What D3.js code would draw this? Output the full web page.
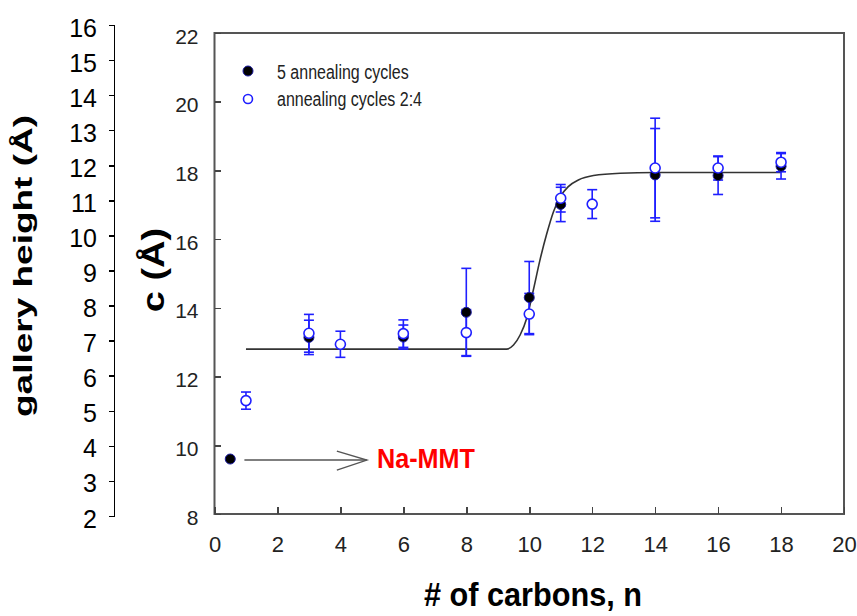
<!DOCTYPE html>
<html lang="en">
<head>
<meta charset="utf-8">
<title>c vs number of carbons</title>
<style>
body{
  margin: 0;
  background: #fff;
}
svg text{
  font-family: "Liberation Sans", Arial, sans-serif;
}
.axis path, .axis line{
  fill: none;
  shape-rendering: crispEdges;
}
</style>
</head>
<body>
<div id="chart"></div>
<script src="https://d3js.org/d3.v7.min.js"></script>
<script>

// values
const nFilled = [0.5, 3, 6, 8, 10, 11, 14, 16, 18];
const cFilled = [9.6, 13.14, 13.15, 13.87, 14.3, 17.01, 17.87, 17.85, 18.12];
const errFilled = [0, 0.5, 0.35, 1.28, 1.05, 0.5, 1.35, 0.55, 0.37];

const nOpen = [1, 3, 4, 6, 8, 10, 11, 12, 14, 16, 18];
const cOpen = [11.3, 13.26, 12.94, 13.25, 13.28, 13.82, 17.19, 17.02, 18.07, 18.07, 18.24];
const errOpen = [0.25, 0.55, 0.38, 0.4, 0.67, 0.6, 0.4, 0.42, 1.45, 0.35, 0.28];

// fitted curve, points
const fitN = [1, 6.5, 9.28, 9.5, 9.71, 9.92, 10.13, 10.34, 10.56, 10.77, 10.98, 11.24, 11.56, 12.04, 12.89, 14, 18];
const fitC = [12.8, 12.8, 12.8, 12.92, 13.21, 13.7, 14.52, 15.39, 16.17, 16.8, 17.23, 17.53, 17.72, 17.85, 17.92, 17.94, 17.94];

const xTicks = [0, 2, 4, 6, 8, 10, 12, 14, 16, 18, 20];
const cTicks = [8, 10, 12, 14, 16, 18, 20, 22];
const galleryTicks = [2, 3, 4, 5, 6, 7, 8, 9, 10, 11, 12, 13, 14, 15, 16];

const seriesNames = ["5 annealing cycles", "annealing cycles 2:4"];
const arrowFrom = [0.95, 9.57];
const arrowTo = [4.84, 9.57];
const noteText = "Na-MMT";

const width = 857;
const height = 616;

const svg = d3.select('#chart')
  .append('svg')
  .attr('width', width)
  .attr('height', height);

const xS = d3.scaleLinear().domain([0, 20]).range([214.5, 844]);
const yS = d3.scaleLinear().domain([8, 22]).range([514, 33]);
const gS = d3.scaleLinear().domain([2, 16]).range([516, 25]);

// stretched text helper (the original titles are condensed)
function label(x, y, txt, size, weight, sx, rot, colour, anchor) {
  return svg.append('text')
    .attr('transform', 'translate(' + x + ',' + y + ') scale(' + sx + ',1)' + (rot ? ' rotate(' + rot + ')' : ''))
    .attr('text-anchor', anchor || 'middle')
    .style('font-size', size + 'px')
    .style('font-weight', weight)
    .style('fill', colour || '#000')
    .text(txt);
}

// plot box
svg.append('rect')
  .attr('x', xS(0))
  .attr('y', yS(22))
  .attr('width', xS(20) - xS(0))
  .attr('height', yS(8) - yS(22))
  .style('fill', 'none')
  .style('stroke', '#555')
  .style('stroke-width', 2);

// x ticks
const xAxis = svg.append('g')
  .attr('class', 'axis')
  .attr('transform', 'translate(0,' + yS(8) + ')')
  .call(d3.axisBottom(xS).tickValues(xTicks).tickSizeInner(-7).tickSizeOuter(0).tickPadding(22));
xAxis.select('.domain').remove();
xAxis.selectAll('line').style('stroke', '#444').style('stroke-width', 1.5);
xAxis.selectAll('text').style('font-size', '22px').style('fill', '#222');

// c ticks
const cAxis = svg.append('g')
  .attr('class', 'axis')
  .attr('transform', 'translate(' + xS(0) + ',0)')
  .call(d3.axisLeft(yS).tickValues(cTicks).tickSizeInner(-6).tickSizeOuter(0).tickPadding(16));
cAxis.select('.domain').remove();
cAxis.selectAll('line').style('stroke', '#444').style('stroke-width', 1.5);
cAxis.selectAll('text').attr('dy', '0.48em').style('font-size', '21px').style('fill', '#222');

// gallery height axis
const gAxis = svg.append('g')
  .attr('class', 'axis')
  .attr('transform', 'translate(114,0)')
  .call(d3.axisLeft(gS).tickValues(galleryTicks).tickSizeInner(5).tickSizeOuter(5).tickPadding(12));
gAxis.select('.domain').style('stroke', '#000').style('stroke-width', 1.5);
gAxis.selectAll('line').style('stroke', '#000').style('stroke-width', 1.5);
gAxis.selectAll('text').attr('dy', '0.44em').style('font-size', '25px').style('fill', '#000');

// titles
label(32, 266, "gallery height (Å)", 37, 'bold', 0.68, -90);
label(164, 270, "c (Å)", 38, 'bold', 0.82, -90);
label(533, 606, "# of carbons, n", 33, 'bold', 0.93, 0);

// fitted curve
const fit = fitN.map((n, i) => [n, fitC[i]]);
svg.append('path')
  .datum(fit)
  .attr('d', d3.line().x(d => xS(d[0])).y(d => yS(d[1])).curve(d3.curveMonotoneX))
  .style('fill', 'none')
  .style('stroke', '#333')
  .style('stroke-width', 1.6);

const filled = nFilled.map((n, i) => ({ n: n, c: cFilled[i], e: errFilled[i] }));
const open = nOpen.map((n, i) => ({ n: n, c: cOpen[i], e: errOpen[i] }));
const blue = '#1f1fff';

// error bars
function errorBars(data) {
  const g = svg.append('g')
    .style('stroke', blue)
    .style('stroke-width', 1.6);
  const bars = data.filter(d => d.e > 0);
  g.selectAll('.v').data(bars).join('line')
    .attr('x1', d => xS(d.n)).attr('x2', d => xS(d.n))
    .attr('y1', d => yS(d.c - d.e)).attr('y2', d => yS(d.c + d.e));
  g.selectAll('.t').data(bars).join('line')
    .attr('x1', d => xS(d.n) - 5).attr('x2', d => xS(d.n) + 5)
    .attr('y1', d => yS(d.c + d.e)).attr('y2', d => yS(d.c + d.e));
  g.selectAll('.b').data(bars).join('line')
    .attr('x1', d => xS(d.n) - 5).attr('x2', d => xS(d.n) + 5)
    .attr('y1', d => yS(d.c - d.e)).attr('y2', d => yS(d.c - d.e));
}
errorBars(filled);
errorBars(open);

svg.append('g').selectAll('circle')
  .data(filled)
  .join('circle')
  .attr('cx', d => xS(d.n))
  .attr('cy', d => yS(d.c))
  .attr('r', 5)
  .style('fill', '#000')
  .style('stroke', '#1a1aa0')
  .style('stroke-width', 1);

svg.append('g').selectAll('circle')
  .data(open)
  .join('circle')
  .attr('cx', d => xS(d.n))
  .attr('cy', d => yS(d.c))
  .attr('r', 5)
  .style('fill', '#fff')
  .style('stroke', blue)
  .style('stroke-width', 1.6);

// legend
svg.append('circle').attr('cx', 248).attr('cy', 71).attr('r', 5)
  .style('fill', '#000').style('stroke', '#1a1aa0');
svg.append('circle').attr('cx', 248).attr('cy', 99).attr('r', 4.5)
  .style('fill', '#fff').style('stroke', blue).style('stroke-width', 1.6);
label(277, 79, seriesNames[0], 20, 'normal', 0.8, 0, '#222', 'start');
label(277, 106, seriesNames[1], 20, 'normal', 0.8, 0, '#222', 'start');

// Na-MMT arrow
const ax1 = xS(arrowFrom[0]), ay = yS(arrowFrom[1]), ax2 = xS(arrowTo[0]);
svg.append('line')
  .attr('x1', ax1).attr('x2', ax2).attr('y1', ay).attr('y2', ay)
  .style('stroke', '#555').style('stroke-width', 1.6);
svg.append('path')
  .attr('d', 'M' + (ax2 - 30) + ',' + (ay - 9) + 'L' + ax2 + ',' + ay + 'L' + (ax2 - 30) + ',' + (ay + 10))
  .style('fill', 'none').style('stroke', '#555').style('stroke-width', 1.4);
label(377, 468, noteText, 28, 'bold', 0.9, 0, '#ff0000', 'start');

</script>
</body>
</html>
